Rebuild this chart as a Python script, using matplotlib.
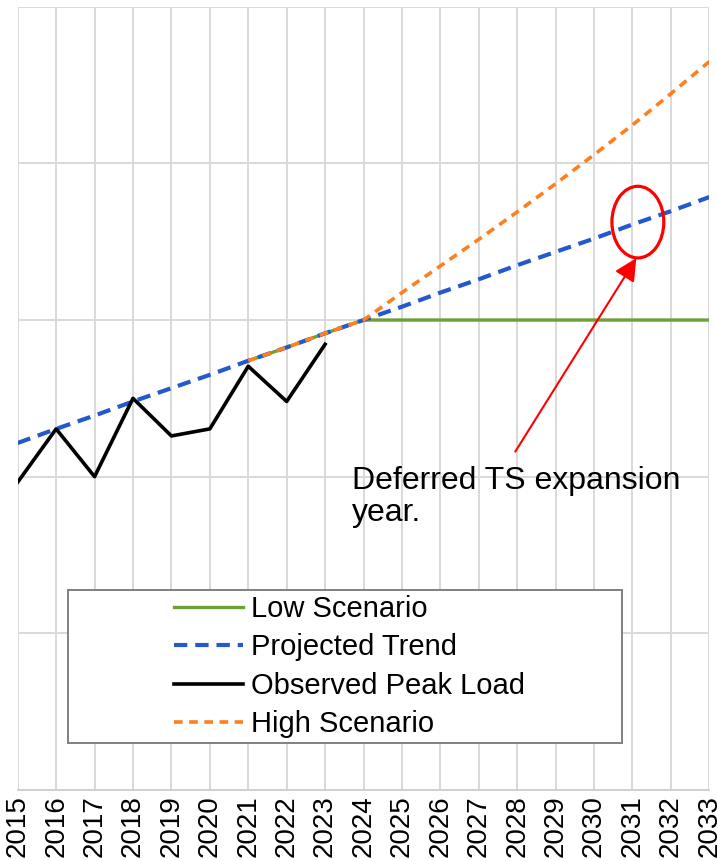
import numpy as np
import matplotlib.pyplot as plt
from matplotlib.patches import Ellipse, Rectangle

plt.rcParams['font.family'] = ['Liberation Sans', 'DejaVu Sans']

years = np.arange(2015, 2034)

# observed peak load, 2015-2023
obs_years = np.arange(2015, 2024)
observed = [39.3, 46.1, 40.0, 50.0, 45.2, 46.1, 54.1, 49.6, 56.9]

# linear trend through the whole horizon
trend = [44.3, 46.1, 47.8, 49.6, 51.3, 53.0, 54.8, 56.5, 58.3, 60.0,
         61.7, 63.5, 65.2, 67.0, 68.7, 70.4, 72.2, 73.9, 75.7]

# scenarios branch off the trend from 2021
scen_years = np.arange(2021, 2034)
low = [54.8, 56.5, 58.3, 60.0, 60.0, 60.0, 60.0, 60.0, 60.0, 60.0, 60.0, 60.0, 60.0]
high = [54.8, 56.5, 58.3, 60.0, 63.5, 66.9, 70.3, 73.8, 77.4, 81.1, 84.9, 88.9, 93.0]

fig = plt.figure(figsize=(7.17, 8.61), dpi=100)
ax = fig.add_axes([0.0247, 0.0825, 0.9646, 0.9097])

ax.plot(scen_years, low, color='#6E9E3A', lw=2.4, label='Low Scenario')
ax.plot(years, trend, color='#2458CF', lw=3.0, dashes=(3.2, 1.9), label='Projected Trend')
ax.plot(obs_years, observed, color='black', lw=2.6, label='Observed Peak Load')
ax.plot(scen_years, high, color='#FF7F1E', lw=2.6, dashes=(2.4, 1.8), label='High Scenario')

ax.set_xlim(2015, 2033)
ax.set_ylim(0, 100)
ax.set_xticks(years)
ax.set_xticklabels([str(y) for y in years], rotation=90, fontsize=20)
ax.set_yticks(np.arange(0, 101, 20))
ax.set_yticklabels([])
ax.tick_params(length=0, pad=4)
ax.grid(True, color='#d9d9d9', lw=1.4)
ax.set_axisbelow(True)
for s in ['left', 'right', 'top']:
    ax.spines[s].set_visible(False)
ax.spines['bottom'].set_color('#d0d0d0')
ax.spines['bottom'].set_linewidth(1.4)

# circled year and callout
ax.add_patch(Ellipse((2031.14, 72.5), 1.35, 9.15, fill=False, edgecolor='red', lw=2.3, zorder=5))
ax.annotate('', xy=(2031.1, 67.9), xytext=(2027.95, 43.2),
            arrowprops=dict(arrowstyle='-|>', color='red', lw=1.5, mutation_scale=34,
                            shrinkA=0, shrinkB=0), zorder=5)
ax.text(2023.7, 41.4, 'Deferred TS expansion\nyear.', fontsize=23, va='top', ha='left',
        linespacing=1.1)

# legend with a wide box
ax.add_patch(Rectangle((0.0727, 0.06), 0.8011, 0.1953, transform=ax.transAxes,
                       facecolor='white', edgecolor='#808080', lw=1.4, zorder=6))
leg = ax.legend(loc='upper left', bbox_to_anchor=(0.226, 0.249), frameon=False,
                fontsize=21, borderpad=0, handlelength=2.35, handletextpad=0.28,
                labelspacing=0.36, borderaxespad=0)
leg.set_zorder(7)

fig.savefig('out.png', dpi=100)
